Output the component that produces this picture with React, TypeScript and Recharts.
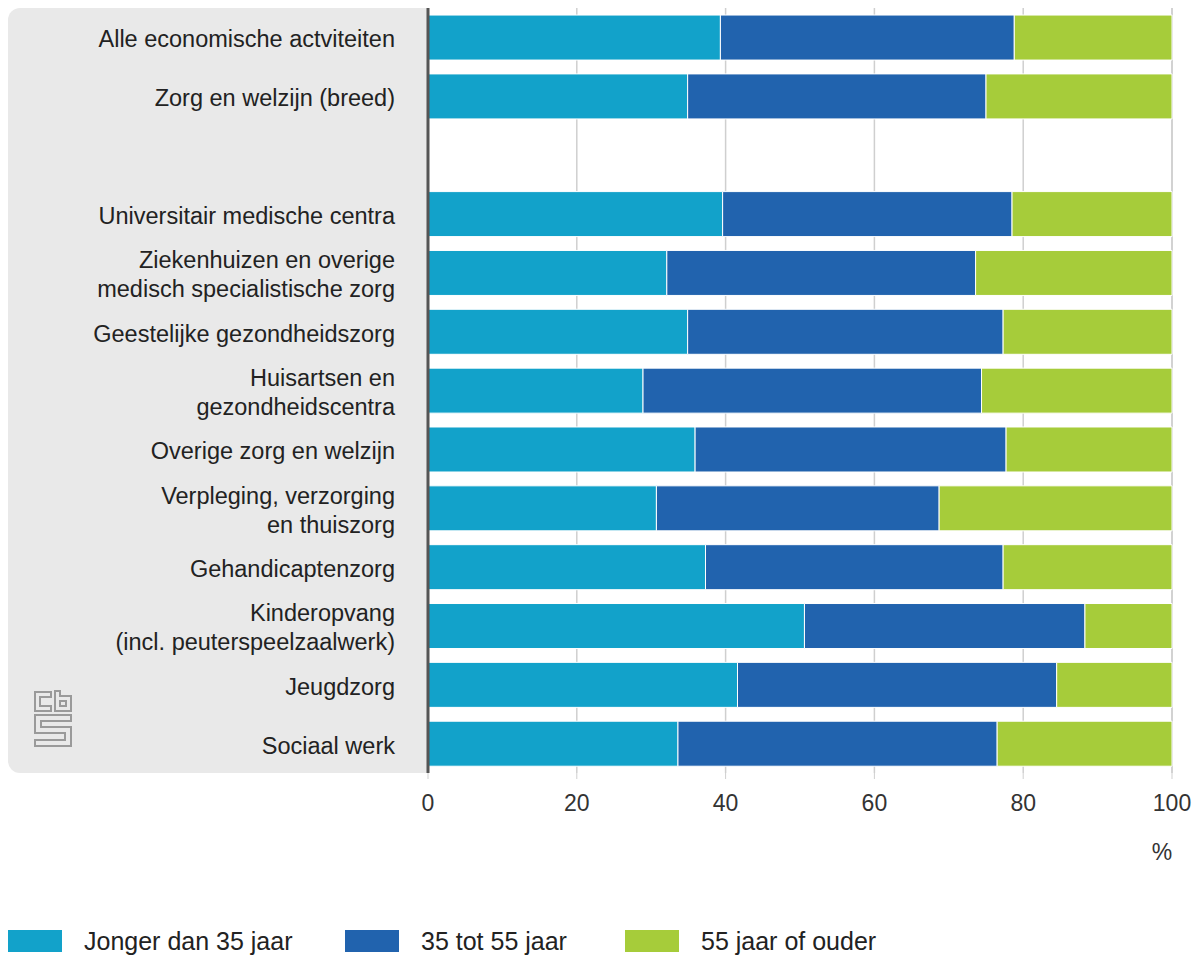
import React from 'react';
import { BarChart, Bar, XAxis, YAxis, CartesianGrid, Legend } from 'recharts';

// categorieën (leeg item = witregel tussen totaal en branches)
const sectors = [
  'Alle economische actviteiten',
  'Zorg en welzijn (breed)',
  '',
  'Universitair medische centra',
  'Ziekenhuizen en overige\nmedisch specialistische zorg',
  'Geestelijke gezondheidszorg',
  'Huisartsen en\ngezondheidscentra',
  'Overige zorg en welzijn',
  'Verpleging, verzorging\nen thuiszorg',
  'Gehandicaptenzorg',
  'Kinderopvang\n(incl. peuterspeelzaalwerk)',
  'Jeugdzorg',
  'Sociaal werk',
];

// aandelen in %
const jonger35 = [39.3, 34.9, null, 39.6, 32.1, 34.9, 28.9, 35.9, 30.7, 37.3, 50.6, 41.6, 33.6];
const tussen35en55 = [39.5, 40.1, null, 38.9, 41.5, 42.4, 45.5, 41.8, 38.0, 40.0, 37.7, 42.9, 42.9];
const ouder55 = [21.2, 25.0, null, 21.5, 26.4, 22.7, 25.6, 22.3, 31.3, 22.7, 11.7, 15.5, 23.5];

const xTicks = [0, 20, 40, 60, 80, 100];

const series = [
  { key: 'jonger', name: 'Jonger dan 35 jaar', color: '#12a2ca' },
  { key: 'midden', name: '35 tot 55 jaar', color: '#2163ae' },
  { key: 'ouder', name: '55 jaar of ouder', color: '#a6cc3a' },
];

const data = sectors.map((s, i) => ({
  sector: s,
  jonger: jonger35[i],
  midden: tussen35en55[i],
  ouder: ouder55[i],
}));

const FONT = 'Arial, "Liberation Sans", sans-serif';

const SectorTick = ({ y, payload }: any) => {
  const lines = String(payload.value).split('\n');
  const lh = 29;
  const start = -((lines.length - 1) * lh) / 2;
  return (
    <text x={387} y={y} textAnchor="end" fill="#222" fontSize={23.5} fontFamily={FONT}>
      {lines.map((l, i) => (
        <tspan key={i} x={387} dy={i === 0 ? start + 10 : lh}>{l}</tspan>
      ))}
    </text>
  );
};

const PercentLabel = ({ viewBox }: any) => (
  <text
    x={viewBox.x + viewBox.width - 10}
    y={viewBox.y + 87}
    textAnchor="middle"
    fill="#333"
    fontSize={23}
    fontFamily={FONT}
  >
    %
  </text>
);

const LegendContent = () => (
  <div style={{ position: 'relative', height: 26, fontFamily: FONT, fontSize: 25, color: '#222' }}>
    {series.map((s, i) => {
      const left = [0, 337, 617][i];
      return (
        <div key={s.key} style={{ position: 'absolute', left, top: 0, display: 'flex', alignItems: 'center', lineHeight: '26px' }}>
          <span style={{ display: 'inline-block', width: 54, height: 22, background: s.color }} />
          <span style={{ marginLeft: 22, whiteSpace: 'nowrap' }}>{s.name}</span>
        </div>
      );
    })}
  </div>
);

const CbsLogo = () => (
  <svg width={40} height={58} viewBox="0 0 40 58" style={{ position: 'absolute', left: 33, top: 690 }}>
    <g fill="none" stroke="#9a9a9a" strokeWidth={2}>
      <path d="M18 2 H2 V21 H18 V16 H7 V7 H18 Z" />
      <path d="M22 1 V21 H38 V6 H27 V1 Z M27 11 H33 V16 H27 Z" />
      <path d="M38 25 H2 V43 H32 V50 H2 V56 H38 V37 H8 V31 H38 Z" />
    </g>
  </svg>
);

export default function App() {
  return (
    <div style={{ position: 'relative', width: 1195, height: 956 }}>
      <style>{'body { margin: 0; }'}</style>
      <div
        style={{
          position: 'absolute',
          left: 8,
          top: 8,
          width: 420,
          height: 765,
          background: '#e9e9e9',
          borderRadius: '12px 0 0 12px',
        }}
      />
      <CbsLogo />
      <div style={{ position: 'absolute', left: 8, top: 8 }}>
        <BarChart
          width={1187}
          height={948}
          data={data}
          layout="vertical"
          barCategoryGap="12%"
          margin={{ top: 0, right: 23, left: 0, bottom: 123 }}
        >
          <CartesianGrid horizontal={false} stroke="#cfcfcf" strokeWidth={1.5} />
          <XAxis
            type="number"
            domain={[0, 100]}
            ticks={xTicks}
            axisLine={false}
            tickLine={{ stroke: '#cfcfcf' }}
            tickSize={6}
            tickMargin={16}
            height={34}
            tick={{ fill: '#333', fontSize: 23, fontFamily: FONT }}
            interval={0}
            label={<PercentLabel />}
          />
          <YAxis
            type="category"
            dataKey="sector"
            width={420}
            axisLine={{ stroke: '#555', strokeWidth: 3 }}
            tickLine={false}
            tick={<SectorTick />}
            interval={0}
          />
          <Legend
            verticalAlign="bottom"
            content={<LegendContent />}
            wrapperStyle={{ left: 0, bottom: 2, width: 1187, height: 26 }}
          />
          {series.map(s => (
            <Bar
              key={s.key}
              dataKey={s.key}
              name={s.name}
              stackId="a"
              fill={s.color}
              stroke="#ffffff"
              strokeWidth={1}
              isAnimationActive={false}
            />
          ))}
        </BarChart>
      </div>
    </div>
  );
}
